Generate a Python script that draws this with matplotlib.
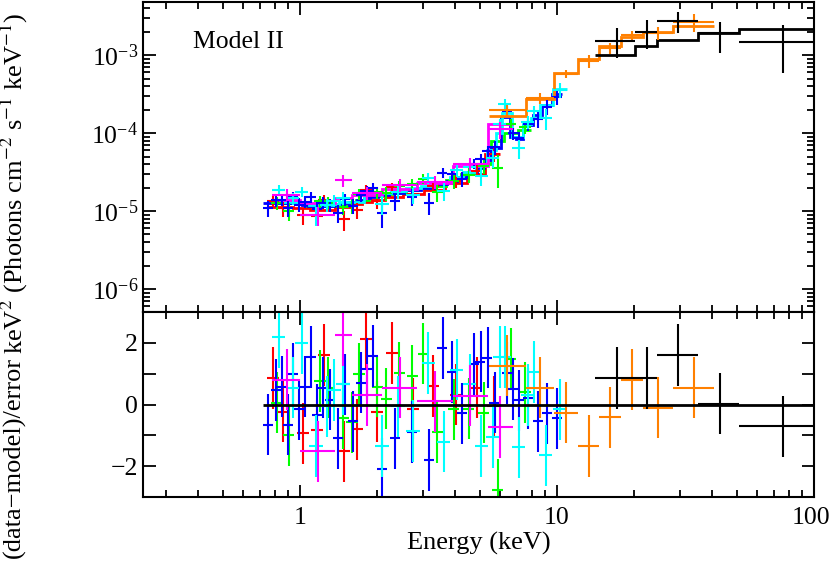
import numpy as np
import matplotlib
matplotlib.use("Agg")
import matplotlib.pyplot as plt
from matplotlib.transforms import ScaledTranslation

plt.rcParams['font.family'] = ['Liberation Serif', 'DejaVu Serif']
plt.rcParams['mathtext.fontset'] = 'stix'

# ---------------- data ----------------
# red
red_e = [0.784, 0.858, 1.027, 1.165, 1.241, 1.485, 1.670, 1.811, 1.999, 2.287, 2.762, 3.307, 4.040, 4.868, 5.67]
red_de = [0.042, 0.046, 0.055, 0.063, 0.067, 0.08, 0.09, 0.098, 0.108, 0.12, 0.15, 0.18, 0.22, 0.26, 0.31]
red_flux = [1.33e-5, 1.08e-5, 0.88e-5, 0.87e-5, 1.38e-5, 0.78e-5, 1.02e-5, 1.87e-5, 1.34e-5, 2.02e-5,
            1.63e-5, 2.08e-5, 2.45e-5, 3.30e-5, 5.34e-5]
red_ferr = [0.23e-5, 0.23e-5, 0.22e-5, 0.21e-5, 0.21e-5, 0.22e-5, 0.24e-5, 0.26e-5, 0.28e-5, 0.30e-5,
            0.33e-5, 0.37e-5, 0.46e-5, 0.59e-5, 1.08e-5]
red_model = [1.13e-5, 1.13e-5, 1.08e-5, 1.04e-5, 1.04e-5, 1.12e-5, 1.22e-5, 1.31e-5, 1.40e-5, 1.51e-5,
             1.67e-5, 1.85e-5, 2.30e-5, 2.97e-5, 5.4e-5]
red_resid = [0.87, -0.23, -0.94, -0.84, 1.61, -1.52, -0.81, 2.13, -0.23, 1.68, -0.13, 0.61, 0.32, 0.55, -0.06]

# green
green_e = [0.813, 0.906, 1.197, 1.286, 1.472, 1.596, 1.700, 1.999, 2.168, 2.437, 2.738, 3.021, 3.427, 3.965,
           4.534, 5.18, 5.87, 6.61, 7.51]
green_de = [0.041, 0.045, 0.06, 0.064, 0.074, 0.08, 0.085, 0.10, 0.11, 0.12, 0.14, 0.15, 0.17, 0.2,
            0.23, 0.26, 0.29, 0.33, 0.38]
green_flux = [1.27e-5, 1.00e-5, 1.33e-5, 1.28e-5, 1.13e-5, 1.17e-5, 1.66e-5, 1.74e-5, 1.69e-5, 2.07e-5,
              2.20e-5, 2.59e-5, 1.74e-5, 2.42e-5, 2.92e-5, 3.79e-5, 3.57e-5, 12.96e-5, 11.86e-5]
green_ferr = [0.25e-5, 0.25e-5, 0.23e-5, 0.23e-5, 0.25e-5, 0.26e-5, 0.28e-5, 0.31e-5, 0.33e-5, 0.34e-5,
              0.37e-5, 0.39e-5, 0.42e-5, 0.5e-5, 0.6e-5, 0.8e-5, 1.6e-5, 2.0e-5, 2.2e-5]
green_model = [1.25e-5, 1.25e-5, 1.15e-5, 1.15e-5, 1.24e-5, 1.32e-5, 1.38e-5, 1.56e-5, 1.63e-5, 1.72e-5,
               1.85e-5, 1.95e-5, 2.12e-5, 2.5e-5, 3.0e-5, 4.0e-5, 8.0e-5, 10.0e-5, 11.0e-5]
green_resid = [0.06, -1.0, 0.77, 0.55, -0.45, -0.58, 1.0, 0.58, 0.19, 1.03, 0.94, 1.65, -0.9, -0.16,
               -0.13, -0.26, -2.77, 1.48, 0.39]

# blue
blue_e = [0.750, 0.806, 0.851, 0.898, 0.939, 0.991, 1.046, 1.104, 1.165, 1.230, 1.310, 1.407, 1.499, 1.610,
          1.730, 1.827, 1.928, 2.090, 2.351, 2.738, 3.190, 3.587, 3.891, 4.260, 4.740, 5.04, 5.37, 5.72,
          6.38, 6.73, 7.11, 7.70, 8.43, 9.13, 10.0]
blue_de = [0.034, 0.036, 0.038, 0.04, 0.042, 0.045, 0.047, 0.05, 0.052, 0.055, 0.059, 0.063, 0.067, 0.072,
           0.078, 0.082, 0.087, 0.094, 0.106, 0.123, 0.144, 0.161, 0.175, 0.19, 0.21, 0.23, 0.24, 0.26,
           0.29, 0.3, 0.32, 0.35, 0.38, 0.41, 0.45]
blue_flux = [1.09e-5, 1.37e-5, 1.40e-5, 1.09e-5, 1.50e-5, 1.21e-5, 1.32e-5, 1.51e-5, 1.07e-5, 1.28e-5,
             1.19e-5, 0.94e-5, 1.41e-5, 1.17e-5, 1.60e-5, 1.80e-5, 2.00e-5, 0.93e-5, 1.33e-5, 1.52e-5,
             1.28e-5, 3.08e-5, 2.97e-5, 2.59e-5, 4.05e-5, 4.60e-5, 5.87e-5, 6.58e-5, 19.3e-5, 9.9e-5,
             8.72e-5, 13.0e-5, 15.1e-5, 21.7e-5, 29.1e-5]
blue_ferr = [0.25e-5, 0.25e-5, 0.25e-5, 0.25e-5, 0.25e-5, 0.25e-5, 0.24e-5, 0.23e-5, 0.23e-5, 0.23e-5,
             0.23e-5, 0.24e-5, 0.25e-5, 0.26e-5, 0.28e-5, 0.29e-5, 0.30e-5, 0.32e-5, 0.34e-5, 0.37e-5,
             0.40e-5, 0.45e-5, 0.49e-5, 0.55e-5, 0.64e-5, 0.72e-5, 0.9e-5, 1.3e-5, 3.2e-5, 1.8e-5,
             1.7e-5, 2.5e-5, 3.4e-5, 4.6e-5, 6.4e-5]
blue_model = [1.25e-5, 1.25e-5, 1.25e-5, 1.25e-5, 1.25e-5, 1.25e-5, 1.18e-5, 1.15e-5, 1.15e-5, 1.15e-5,
              1.15e-5, 1.2e-5, 1.25e-5, 1.32e-5, 1.4e-5, 1.46e-5, 1.52e-5, 1.6e-5, 1.7e-5, 1.85e-5,
              2.0e-5, 2.25e-5, 2.45e-5, 2.75e-5, 3.2e-5, 3.6e-5, 4.5e-5, 6.5e-5, 16.0e-5, 9.0e-5,
              8.5e-5, 12.5e-5, 17.0e-5, 23.0e-5, 32.0e-5]
blue_resid = [-0.65, 0.48, 0.58, -0.65, 1.0, -0.16, 0.58, 1.55, -0.35, 0.55, 0.16, -1.1, 0.65, -0.55,
              0.71, 1.16, 1.58, -2.1, -1.1, -0.9, -1.81, 1.84, 1.06, -0.29, 1.32, 1.39, 1.52, 0.06,
              1.03, 0.5, 0.13, 0.2, -0.55, -0.29, -0.45]

# cyan
cyan_e = [0.828, 0.939, 1.018, 1.155, 1.275, 1.358, 1.472, 2.090, 2.414, 2.762, 3.162, 3.619, 4.076,
          4.575, 5.08, 5.62, 5.98, 6.26, 7.11, 7.70, 8.13, 9.06, 10.27]
cyan_de = [0.05, 0.056, 0.061, 0.069, 0.077, 0.081, 0.088, 0.125, 0.145, 0.166, 0.19, 0.217, 0.245,
           0.275, 0.3, 0.34, 0.36, 0.38, 0.43, 0.46, 0.49, 0.54, 0.62]
cyan_flux = [1.88e-5, 1.45e-5, 1.76e-5, 0.88e-5, 1.20e-5, 1.36e-5, 1.47e-5, 1.23e-5, 1.77e-5, 1.61e-5,
             2.67e-5, 1.81e-5, 3.31e-5, 3.62e-5, 2.85e-5, 4.73e-5, 13.1e-5, 23.6e-5, 6.43e-5, 13.9e-5,
             19.2e-5, 15.5e-5, 35.8e-5]
cyan_ferr = [0.26e-5, 0.26e-5, 0.25e-5, 0.24e-5, 0.24e-5, 0.25e-5, 0.26e-5, 0.34e-5, 0.36e-5, 0.39e-5,
             0.42e-5, 0.48e-5, 0.54e-5, 0.64e-5, 0.78e-5, 1.2e-5, 2.0e-5, 3.6e-5, 1.78e-5, 2.62e-5,
             3.16e-5, 4.62e-5, 7.4e-5]
cyan_model = [1.31e-5, 1.31e-5, 1.26e-5, 1.21e-5, 1.21e-5, 1.24e-5, 1.30e-5, 1.68e-5, 1.79e-5, 1.95e-5,
              2.1e-5, 2.38e-5, 2.7e-5, 3.2e-5, 3.9e-5, 6.0e-5, 10.0e-5, 18.0e-5, 8.9e-5, 13.1e-5,
              15.8e-5, 23.1e-5, 37.0e-5]
cyan_resid = [2.19, 0.55, 2.0, -1.35, -0.06, 0.48, 0.65, -1.35, -0.06, -0.87, 1.35, -1.2, 1.13, 0.65,
              -1.35, -1.06, 1.55, 1.55, -1.39, 0.3, 1.06, -1.65, -0.16]

# magenta (wide bins)
mag_e = [0.89, 1.17, 1.47, 1.83, 2.45, 3.35, 4.6, 6.0]
mag_lo = [0.777, 1.0, 1.37, 1.60, 2.09, 2.86, 3.93, 5.37]
mag_hi = [1.0, 1.37, 1.60, 2.09, 2.86, 3.93, 5.37, 6.73]
mag_flux = [1.61e-5, 0.89e-5, 2.47e-5, 1.70e-5, 2.15e-5, 2.35e-5, 4.02e-5, 11.1e-5]
mag_ferr = [0.28e-5, 0.25e-5, 0.45e-5, 0.32e-5, 0.39e-5, 0.46e-5, 0.76e-5, 2.6e-5]
mag_model = [1.38e-5, 1.27e-5, 1.45e-5, 1.6e-5, 1.93e-5, 2.3e-5, 3.8e-5, 13.0e-5]
mag_resid = [0.81, -1.52, 2.26, 0.3, 0.55, 0.1, 0.29, -0.74]

# orange
orange_edges = [5.42, 7.57, 9.73, 12.08, 14.58, 17.78, 21.67, 28.4, 40.7]
orange_e = [6.41, 8.58, 10.84, 13.27, 16.1, 19.63, 24.8, 34.0]
orange_flux = [1.97e-4, 2.81e-4, 5.8e-4, 8.38e-4, 1.23e-3, 1.80e-3, 1.91e-3, 2.65e-3]
orange_ferr = [3.5e-5, 4.2e-5, 7e-5, 1.5e-4, 2.0e-4, 2.4e-4, 3.5e-4, 7e-4]
orange_model = [1.65e-4, 2.73e-4, 5.9e-4, 8.9e-4, 1.30e-3, 1.70e-3, 1.95e-3, 2.36e-3]
orange_resid = [1.26, 0.55, -0.26, -1.35, -0.42, 0.81, -0.10, 0.55]

# black
black_edges = [14.0, 20.2, 24.4, 35.5, 51.0, 100.0]
black_e = [17.1, 22.3, 29.7, 42.9, 76.0]
black_flux = [1.51e-3, 1.97e-3, 2.73e-3, 1.91e-3, 1.47e-3]
black_flux_lo = [9.2e-4, 1.19e-3, 1.91e-3, 1.06e-3, 5.9e-4]
black_flux_hi = [2.22e-3, 2.81e-3, 3.55e-3, 2.65e-3, 2.42e-3]
black_model = [1.0e-3, 1.30e-3, 1.56e-3, 1.91e-3, 2.15e-3]
black_resid = [0.87, 0.87, 1.61, 0.03, -0.71]

ORANGE = '#ff8000'
LW_ERR = 1.5
LW_MOD = 2.0
FS = 18.5

fig = plt.figure(figsize=(8.3, 5.62), dpi=100)
ax1 = fig.add_axes([143 / 830, 1 - 312 / 562, 671 / 830, 310 / 562])
ax2 = fig.add_axes([143 / 830, 1 - 497 / 562, 671 / 830, 185 / 562], sharex=ax1)


def soft_set(e, de, flux, ferr, model, resid, color):
    e = np.array(e)
    de = np.array(de)
    edges = np.concatenate([[e[0] - de[0]], (e[:-1] + e[1:]) / 2, [e[-1] + de[-1]]])
    ax1.stairs(model, edges, color=color, lw=LW_MOD, baseline=None)
    ax1.errorbar(e, flux, xerr=de, yerr=ferr, fmt='none', ecolor=color, elinewidth=LW_ERR, capsize=0)
    ax2.errorbar(e, resid, xerr=de, yerr=1, fmt='none', ecolor=color, elinewidth=LW_ERR, capsize=0)


soft_set(red_e, red_de, red_flux, red_ferr, red_model, red_resid, 'red')
soft_set(green_e, green_de, green_flux, green_ferr, green_model, green_resid, '#00ff00')
soft_set(blue_e, blue_de, blue_flux, blue_ferr, blue_model, blue_resid, 'blue')
soft_set(cyan_e, cyan_de, cyan_flux, cyan_ferr, cyan_model, cyan_resid, 'cyan')

# magenta
me = np.array(mag_e)
mxerr = [me - np.array(mag_lo), np.array(mag_hi) - me]
ax1.stairs(mag_model, mag_lo + [mag_hi[-1]], color='magenta', lw=LW_MOD, baseline=None)
ax1.errorbar(me, mag_flux, xerr=mxerr, yerr=mag_ferr, fmt='none', ecolor='magenta', elinewidth=LW_ERR, capsize=0)
ax2.errorbar(me, mag_resid, xerr=mxerr, yerr=1, fmt='none', ecolor='magenta', elinewidth=LW_ERR, capsize=0)

# orange
oe = np.array(orange_e)
oed = np.array(orange_edges)
oxerr = [oe - oed[:-1], oed[1:] - oe]
ax1.stairs(orange_model, orange_edges, color=ORANGE, lw=LW_MOD, baseline=None)
ax1.errorbar(oe, orange_flux, xerr=oxerr, yerr=orange_ferr, fmt='none', ecolor=ORANGE, elinewidth=LW_ERR, capsize=0)
ax2.errorbar(oe, orange_resid, xerr=oxerr, yerr=1, fmt='none', ecolor=ORANGE, elinewidth=LW_ERR, capsize=0)

# black
be = np.array(black_e)
bed = np.array(black_edges)
bxerr = [be - bed[:-1], bed[1:] - be]
bf = np.array(black_flux)
byerr = [bf - np.array(black_flux_lo), np.array(black_flux_hi) - bf]
ax1.stairs(black_model, black_edges, color='black', lw=LW_MOD, baseline=None)
ax1.errorbar(be, bf, xerr=bxerr, yerr=byerr, fmt='none', ecolor='black', elinewidth=LW_ERR, capsize=0)
ax2.errorbar(be, black_resid, xerr=bxerr, yerr=1, fmt='none', ecolor='black', elinewidth=LW_ERR, capsize=0)

ax2.hlines(0, 0.72, 100, color='black', lw=LW_MOD)

# axes
ax1.set_xscale('log')
ax1.set_yscale('log')
ax1.set_xlim(0.245, 100)
ax1.set_ylim(5.07e-7, 4.79e-3)
ax2.set_ylim(-3, 3)
ax2.set_yticks([-2, -1, 0, 1, 2])
ax2.set_yticklabels(['\u22122', '', '0', '', '2'])
ax1.set_yticks([1e-6, 1e-5, 1e-4, 1e-3])
ax2.set_xticks([1, 10, 100])
ax2.set_xticklabels(['1', '10', '100'])

for ax in (ax1, ax2):
    for s in ax.spines.values():
        s.set_linewidth(1.5)
    ax.tick_params(which='both', direction='in', top=True, right=True, labelsize=FS, width=1.3)
    ax.tick_params(which='major', length=9)
    ax.tick_params(which='minor', length=5)
ax2.tick_params(axis='x', pad=7)
ax1.tick_params(labelbottom=False)

# keep the "100" label inside the canvas
lab100 = ax2.get_xticklabels()[2]
lab100.set_transform(lab100.get_transform() + ScaledTranslation(-3 / 100, 0, fig.dpi_scale_trans))

ax2.set_xlabel('Energy (keV)', fontsize=19, labelpad=2)

fig.text(14 / 830, 1 - 558 / 562, '(data\u2212model)/error', rotation=90, fontsize=19,
         ha='center', va='bottom')
fig.text(14 / 830, 1 - 12 / 562, 'keV$^2$ (Photons cm$^{-2}$ s$^{-1}$ keV$^{-1}$)', rotation=90,
         fontsize=19, ha='center', va='top')

ax1.text(0.074, 0.87, 'Model II', transform=ax1.transAxes, fontsize=FS, ha='left', va='center')

fig.savefig('out.png', dpi=100)
